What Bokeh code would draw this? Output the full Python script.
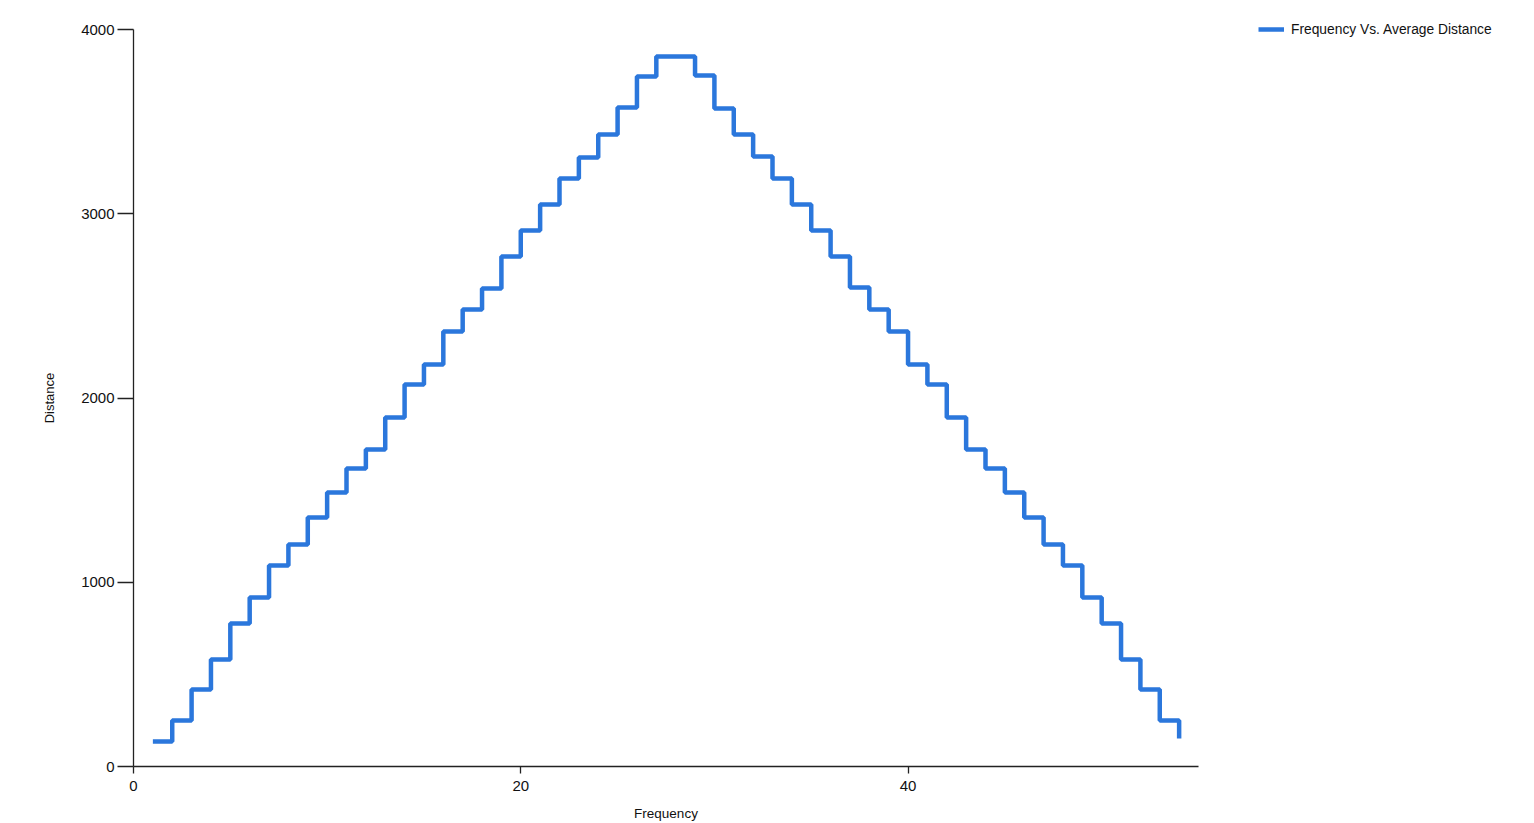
from bokeh.plotting import figure
from bokeh.models import Range1d, Legend, LegendItem, FixedTicker
from bokeh.embed import file_html
from bokeh.resources import INLINE

# ---- data ----
frequency = list(range(1, 55))
avg_distance = [
    136, 250, 418, 581, 776, 917, 1091, 1205, 1351, 1487,
    1617, 1720, 1894, 2073, 2182, 2361, 2480, 2594, 2768, 2909,
    3050, 3191, 3305, 3430, 3577, 3745, 3853, 3853, 3750, 3571,
    3430, 3311, 3191, 3050, 2909, 2768, 2600, 2480, 2361, 2182,
    2073, 1894, 1720, 1617, 1487, 1351, 1205, 1091, 917, 776,
    581, 418, 250, 152,
]
x_ticks = [0, 20, 40]
y_ticks = [0, 1000, 2000, 3000, 4000]
series_name = "Frequency Vs. Average Distance"

FONT = "Liberation Sans"
LINE_COLOR = "#2b77dc"

p = figure(frame_width=1065, frame_height=737, output_backend="svg", toolbar_location=None,
           x_range=Range1d(0, 55), y_range=Range1d(0, 4000),
           min_border_left=133, min_border_right=332,
           min_border_top=29, min_border_bottom=57)

r = p.step(frequency, avg_distance, mode="after", line_color=LINE_COLOR, line_width=4.5)

p.xgrid.visible = False
p.ygrid.visible = False
p.outline_line_color = None
p.background_fill_color = "white"
p.border_fill_color = "white"

for ax in (p.xaxis[0], p.yaxis[0]):
    ax.axis_line_color = "#222222"
    ax.axis_line_width = 1.3
    ax.major_tick_line_color = "#222222"
    ax.major_tick_line_width = 1.3
    ax.major_tick_in = 0
    ax.minor_tick_line_color = None
    ax.major_label_text_font = FONT
    ax.major_label_text_font_size = "15px"
    ax.major_label_text_color = "#111111"
    ax.axis_label_text_font = FONT
    ax.axis_label_text_font_size = "13.5px"
    ax.axis_label_text_font_style = "normal"
    ax.axis_label_text_color = "#111111"

p.yaxis[0].axis_label_text_font_size = "13px"
p.xaxis[0].ticker = FixedTicker(ticks=x_ticks)
p.yaxis[0].ticker = FixedTicker(ticks=y_ticks)
p.xaxis[0].major_tick_out = 7
p.yaxis[0].major_tick_out = 16
p.xaxis[0].major_label_standoff = 7
p.yaxis[0].major_label_standoff = 3
p.xaxis[0].axis_label = "Frequency"
p.yaxis[0].axis_label = "Distance"
p.xaxis[0].axis_label_standoff = 12
p.yaxis[0].axis_label_standoff = 21

legend = Legend(items=[LegendItem(label=series_name, renderers=[r])],
                location=(60, 727), margin=0, padding=0,
                border_line_color=None, background_fill_alpha=0,
                glyph_width=26, glyph_height=20, label_standoff=7,
                label_text_font=FONT, label_text_font_size="13.8px",
                label_text_color="#111111")
p.add_layout(legend, "right")

open("out.html", "w").write(file_html(p, INLINE))
